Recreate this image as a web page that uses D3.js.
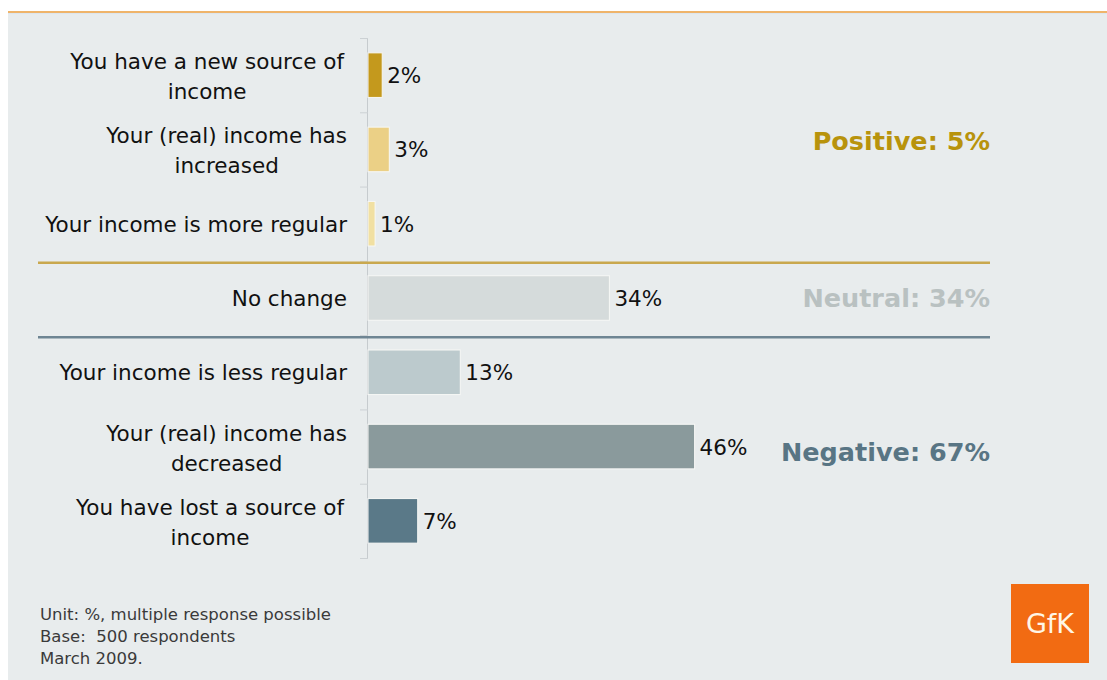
<!DOCTYPE html>
<html>
<head>
<meta charset="utf-8">
<script src="https://cdn.jsdelivr.net/npm/d3@7"></script>
<style>
  html, body { margin: 0; padding: 0; background: #ffffff; }
  svg { display: block; }
  text { font-family: "DejaVu Sans", Verdana, sans-serif; white-space: pre; }
</style>
</head>
<body>
<svg id="chart" width="1107" height="680"></svg>
<script>
// Survey: change in household income
const categories = [
  "You have a new source of income",
  "Your (real) income has increased",
  "Your income is more regular",
  "No change",
  "Your income is less regular",
  "Your (real) income has decreased",
  "You have lost a source of income"
];
const labelLines = [
  ["You have a new source of", "income"],
  ["Your (real) income has", "increased"],
  ["Your income is more regular"],
  ["No change"],
  ["Your income is less regular"],
  ["Your (real) income has", "decreased"],
  ["You have lost a source of", "income"]
];
const values = [2, 3, 1, 34, 13, 46, 7];
const barColors = ["#c4991d", "#ebd086", "#f1e0a2", "#d5dbdb", "#bccacd", "#8a9a9c", "#5a7988"];

// Group summaries shown on the right
const groupNames = ["Positive", "Neutral", "Negative"];
const groupTotals = [5, 34, 67];
const groupMembers = [[0, 1, 2], [3], [4, 5, 6]];
const groupColors = ["#b8930c", "#b9c1c1", "#587584"];

const footnotes = [
  "Unit: %, multiple response possible",
  "Base:  500 respondents",
  "March 2009."
];

const svg = d3.select("#chart");

// Panel background with the thin orange rule on top
svg.append("rect").attr("x", 8).attr("y", 12).attr("width", 1099).attr("height", 668).attr("fill", "#e8eced");
svg.append("rect").attr("x", 8).attr("y", 11).attr("width", 1099).attr("height", 2).attr("fill", "#efb46a");
svg.append("rect").attr("x", 8).attr("y", 13).attr("width", 1099).attr("height", 1).attr("fill", "#dde6ee");

const x0 = 368;
const x = d3.scaleLinear().domain([0, 100]).range([x0, x0 + 710]);
const y = d3.scaleBand().domain(d3.range(categories.length)).range([38, 558]).paddingInner(0.4).paddingOuter(0.2);

// Category axis with ticks between rows
const yEdge = d3.scaleLinear().domain([0, categories.length]).range([38, 558]);
svg.append("line").attr("x1", x0 - 0.5).attr("x2", x0 - 0.5).attr("y1", 38).attr("y2", 558)
  .attr("stroke", "#c6cbce").attr("stroke-width", 1);
svg.append("g").selectAll("line").data(d3.range(categories.length + 1)).join("line")
  .attr("x1", x0 - 8).attr("x2", x0).attr("y1", d => yEdge(d) + 0.5).attr("y2", d => yEdge(d) + 0.5)
  .attr("stroke", "#ccd1d4").attr("stroke-width", 1);

// Group separators
const sepColors = ["#c9a84e", "#6e8593"];
svg.append("g").selectAll("line").data([3, 4]).join("line")
  .attr("x1", 38).attr("x2", 990)
  .attr("y1", d => yEdge(d) + 2).attr("y2", d => yEdge(d) + 2)
  .attr("stroke", (d, i) => sepColors[i]).attr("stroke-width", 2.5);

// Bars
svg.append("g").selectAll("rect").data(values).join("rect")
  .attr("x", x0)
  .attr("y", (d, i) => y(i))
  .attr("width", d => x(d) - x0)
  .attr("height", y.bandwidth())
  .attr("fill", (d, i) => barColors[i])
  .attr("stroke", "#f7f8f6").attr("stroke-width", 1);

// Value labels
svg.append("g").selectAll("text").data(values).join("text")
  .attr("x", d => x(d) + 5)
  .attr("y", (d, i) => y(i) + y.bandwidth() / 2 + 8)
  .attr("font-size", 21.5).attr("fill", "#111")
  .text(d => d + "%");

// Category labels: right-aligned block, lines centred within it
const labelRight = 347;
const lg = svg.append("g");
labelLines.forEach((lines, i) => {
  const c = y(i) + y.bandwidth() / 2;
  const t = lg.append("text").attr("font-size", 21.5).attr("fill", "#111").attr("text-anchor", "middle");
  const spans = lines.map((s, k) => t.append("tspan").text(s));
  const w = d3.max(spans, s => s.node().getComputedTextLength());
  const cx = labelRight - w / 2;
  spans.forEach((s, k) => {
    const base = lines.length === 1 ? c + 8 : c - 6 + 30 * k;
    s.attr("x", cx).attr("y", base);
  });
});

// Group totals on the right
const groupOffset = [-8, 0, 5];
svg.append("g").selectAll("text").data(groupNames).join("text")
  .attr("x", 990)
  .attr("y", (d, i) => {
    const m = groupMembers[i];
    const c = (y(m[0]) + y(m[m.length - 1]) + y.bandwidth()) / 2;
    return c + 9 + groupOffset[i];
  })
  .attr("text-anchor", "end")
  .attr("font-size", 25.5).attr("font-weight", "bold")
  .attr("fill", (d, i) => groupColors[i])
  .text((d, i) => d + ": " + groupTotals[i] + "%");

// Footnotes
svg.append("g").selectAll("text").data(footnotes).join("text")
  .attr("x", 40).attr("y", (d, i) => 620 + 22 * i)
  .attr("font-size", 16.5).attr("fill", "#3a3a3a")
  .text(d => d);

// Logo
svg.append("rect").attr("x", 1011).attr("y", 584).attr("width", 78).attr("height", 79).attr("fill", "#f26b12");
svg.append("text").attr("x", 1050).attr("y", 633).attr("text-anchor", "middle")
  .attr("font-size", 27).attr("fill", "#fff6e6")
  .text("GfK");
</script>
</body>
</html>
